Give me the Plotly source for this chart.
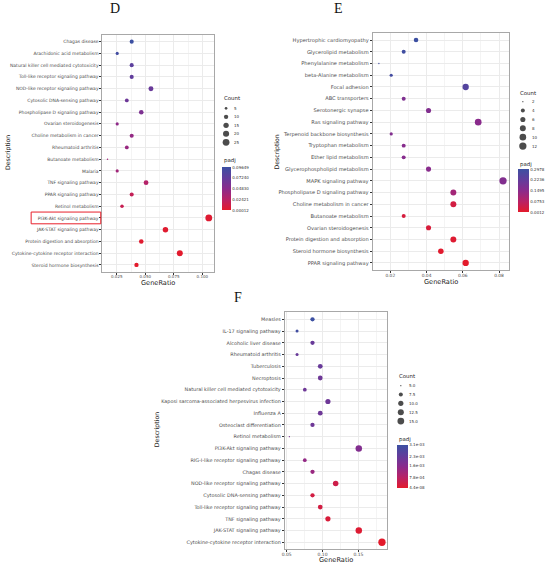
import math
import plotly.graph_objects as go

W, H = 550, 565

# ---------------- Panel D data ----------------
d_terms = ["Chagas disease", "Arachidonic acid metabolism", "Natural killer cell mediated cytotoxicity",
           "Toll-like receptor signaling pathway", "NOD-like receptor signaling pathway",
           "Cytosolic DNA-sensing pathway", "Phospholipase D signaling pathway", "Ovarian steroidogenesis",
           "Choline metabolism in cancer", "Rheumatoid arthritis", "Butanoate metabolism", "Malaria",
           "TNF signaling pathway", "PPAR signaling pathway", "Retinol metabolism",
           "PI3K-Akt signaling pathway", "JAK-STAT signaling pathway", "Protein digestion and absorption",
           "Cytokine-cytokine receptor interaction", "Steroid hormone biosynthesis"]
d_ratio = [0.0381, 0.0254, 0.0381, 0.0381, 0.0550, 0.0338, 0.0465, 0.0254, 0.0381, 0.0338,
           0.0169, 0.0254, 0.0507, 0.0381, 0.0296, 0.1057, 0.0677, 0.0465, 0.0803, 0.0423]
d_count = [9, 6, 9, 9, 13, 8, 11, 6, 9, 8, 4, 6, 12, 9, 7, 25, 16, 11, 19, 10]
d_padj = [0.0965, 0.093, 0.076, 0.073, 0.068, 0.066, 0.056, 0.046, 0.043, 0.041,
          0.036, 0.036, 0.026, 0.018, 0.016, 0.003, 0.002, 0.002, 0.0008, 0.00012]
d_cb_vals = [0.00012, 0.02421, 0.04830, 0.07240, 0.09649]
d_cb_text = ["0.00012", "0.02421", "0.04830", "0.07240", "0.09649"]
d_count_breaks = [5, 10, 15, 20, 25]
d_count_text = ["5", "10", "15", "20", "25"]

# ---------------- Panel E data ----------------
e_terms = ["Hypertrophic cardiomyopathy", "Glycerolipid metabolism", "Phenylalanine metabolism",
           "beta-Alanine metabolism", "Focal adhesion", "ABC transporters", "Serotonergic synapse",
           "Ras signaling pathway", "Terpenoid backbone biosynthesis", "Tryptophan metabolism",
           "Ether lipid metabolism", "Glycerophospholipid metabolism", "MAPK signaling pathway",
           "Phospholipase D signaling pathway", "Choline metabolism in cancer", "Butanoate metabolism",
           "Ovarian steroidogenesis", "Protein digestion and absorption", "Steroid hormone biosynthesis",
           "PPAR signaling pathway"]
e_ratio = [0.0342, 0.0274, 0.0137, 0.0205, 0.0616, 0.0274, 0.0411, 0.0685, 0.0205, 0.0274,
           0.0274, 0.0411, 0.0822, 0.0548, 0.0548, 0.0274, 0.0411, 0.0548, 0.0479, 0.0616]
e_count = [5, 4, 2, 3, 9, 4, 6, 10, 3, 4, 4, 6, 12, 8, 8, 4, 6, 8, 7, 9]
e_padj = [0.2978, 0.290, 0.290, 0.282, 0.250, 0.170, 0.165, 0.150, 0.165, 0.155,
          0.155, 0.152, 0.165, 0.110, 0.030, 0.025, 0.020, 0.010, 0.005, 0.0012]
e_cb_vals = [0.0012, 0.0753, 0.1495, 0.2236, 0.2978]
e_cb_text = ["0.0012", "0.0753", "0.1495", "0.2236", "0.2978"]
e_count_breaks = [2, 4, 6, 8, 10, 12]
e_count_text = ["2", "4", "6", "8", "10", "12"]

# ---------------- Panel F data ----------------
f_terms = ["Measles", "IL-17 signaling pathway", "Alcoholic liver disease", "Rheumatoid arthritis",
           "Tuberculosis", "Necroptosis", "Natural killer cell mediated cytotoxicity",
           "Kaposi sarcoma-associated herpesvirus infection", "Influenza A", "Osteoclast differentiation",
           "Retinol metabolism", "PI3K-Akt signaling pathway", "RIG-I-like receptor signaling pathway",
           "Chagas disease", "NOD-like receptor signaling pathway", "Cytosolic DNA-sensing pathway",
           "Toll-like receptor signaling pathway", "TNF signaling pathway", "JAK-STAT signaling pathway",
           "Cytokine-cytokine receptor interaction"]
f_ratio = [0.0860, 0.0645, 0.0860, 0.0645, 0.0968, 0.0968, 0.0753, 0.1075, 0.0968, 0.0860,
           0.0538, 0.1505, 0.0753, 0.0860, 0.1183, 0.0860, 0.0968, 0.1075, 0.1505, 0.1828]
f_count = [8, 6, 8, 6, 9, 9, 7, 10, 9, 8, 5, 14, 7, 8, 11, 8, 9, 10, 14, 17]
f_padj = [0.0031, 0.0030, 0.0022, 0.0022, 0.0022, 0.0021, 0.0021, 0.0021, 0.0021, 0.0021,
          0.0019, 0.0017, 0.0014, 0.0013, 0.0004, 0.0003, 0.0003, 0.0002, 0.0001, 4.4e-08]
f_cb_vals = [4.4e-08, 7.8e-04, 1.6e-03, 2.3e-03, 3.1e-03]
f_cb_text = ["4.4e-08", "7.8e-04", "1.6e-03", "2.3e-03", "3.1e-03"]
f_count_breaks = [5.0, 7.5, 10.0, 12.5, 15.0]
f_count_text = ["5.0", "7.5", "10.0", "12.5", "15.0"]

COLORSCALE = [[0.0, "#E31A2B"], [0.25, "#B82266"], [0.5, "#8A2B8C"], [0.75, "#623D9C"], [1.0, "#3C50A2"]]
FONT = "DejaVu Sans"


def px(x):
    return x / W


def py(y):
    return 1 - y / H


panels = [
    dict(key="D", terms=d_terms, ratio=d_ratio, count=d_count, padj=d_padj,
         cb_vals=d_cb_vals, cb_text=d_cb_text, breaks=d_count_breaks, btext=d_count_text,
         box=(100, 212, 34.6, 272), dmin=1.5, dmax=6.8, dtick=0.025, fmt=".3f", tfont=4.5, xfont=4.0,
         letter=(113, 8), ytitle=(5, 152), xtitle=(156, 283),
         leg=dict(title=(220, 98), cx=224.3, cy0=108.3, dy=8.5, tx=230.5,
                  ptitle=(220, 161), cb=(220.5, 167.3, 42.7, 8.6))),
    dict(key="E", terms=e_terms, ratio=e_ratio, count=e_count, padj=e_padj,
         cb_vals=e_cb_vals, cb_text=e_cb_text, breaks=e_count_breaks, btext=e_count_text,
         box=(371.7, 509, 33, 270), dmin=1.3, dmax=7.3, dtick=0.02, fmt=".2f", tfont=5.1, xfont=4.4,
         letter=(337.7, 8), ytitle=(276, 152), xtitle=(440, 281.5),
         leg=dict(title=(518, 92.7), cx=522.7, cy0=101.7, dy=8.87, tx=529.5,
                  ptitle=(518, 164), cb=(518, 169.3, 43.4, 11.3))),
    dict(key="F", terms=f_terms, ratio=f_ratio, count=f_count, padj=f_padj,
         cb_vals=f_cb_vals, cb_text=f_cb_text, breaks=f_count_breaks, btext=f_count_text,
         box=(283.3, 385.7, 312.3, 549.3), dmin=1.3, dmax=7.3, dtick=0.05, fmt=".2f", tfont=4.9, xfont=4.5,
         letter=(236.7, 297), ytitle=(155, 430), xtitle=(335, 559.5),
         leg=dict(title=(395.7, 376), cx=400, cy0=385.7, dy=8.83, tx=406,
                  ptitle=(396, 439), cb=(396, 445, 43.3, 10.7))),
]

fig = go.Figure()
layout = dict(width=W, height=H, margin=dict(l=0, r=0, t=0, b=0),
              paper_bgcolor="white", plot_bgcolor="rgba(0,0,0,0)", showlegend=False,
              font=dict(family=FONT, color="#4D4D4D"))
annotations = []
shapes = []

leg_x, leg_y, leg_s = [], [], []

for i, p in enumerate(panels):
    n = i + 1
    sfx = "" if n == 1 else str(n)
    x0, x1, y0, y1 = p["box"]
    lo, hi = min(p["count"]), max(p["count"])
    dmin, dmax = p["dmin"], p["dmax"]

    def size_of(c, lo=lo, hi=hi, dmin=dmin, dmax=dmax):
        return dmin + (dmax - dmin) * math.sqrt(max(c - lo, 0) / (hi - lo))

    rmin, rmax = min(p["ratio"]), max(p["ratio"])
    pad = (rmax - rmin) * 0.05
    ca = "coloraxis" + sfx
    fig.add_trace(go.Scatter(
        x=p["ratio"], y=p["terms"], mode="markers",
        xaxis="x" + sfx, yaxis="y" + sfx,
        marker=dict(size=[size_of(c) for c in p["count"]], color=p["padj"], coloraxis=ca,
                    line=dict(width=0), opacity=1),
        hoverinfo="skip"))

    lg = p["leg"]
    cbx, cby, cblen, cbth = lg["cb"]
    layout[ca] = dict(colorscale=COLORSCALE, cmin=p["cb_vals"][0], cmax=p["cb_vals"][-1],
                      colorbar=dict(x=px(cbx), xanchor="left", y=py(cby), yanchor="top",
                                    len=cblen, lenmode="pixels", thickness=cbth, thicknessmode="pixels",
                                    tickvals=p["cb_vals"], ticktext=p["cb_text"], ticks="",
                                    tickfont=dict(size=4, color="#333333", family=FONT),
                                    outlinewidth=0, xpad=0, ypad=0))

    layout["xaxis" + sfx] = dict(
        domain=[px(x0), px(x1)], anchor="y" + sfx, range=[rmin - pad, rmax + pad],
        dtick=p["dtick"], tick0=0, tickformat=p["fmt"], showgrid=True, gridcolor="#EBEBEB", gridwidth=0.6,
        minor=dict(dtick=p["dtick"] / 2, tick0=0, showgrid=True, gridcolor="#F4F4F4", gridwidth=0.4),
        zeroline=False, showline=True, mirror=True, linecolor="#A8A8A8", linewidth=1,
        ticks="outside", ticklen=1.5, tickwidth=0.5, tickcolor="#333333", ticklabelstandoff=-1,
        tickfont=dict(size=p["xfont"], color="#4D4D4D"), fixedrange=True)
    layout["yaxis" + sfx] = dict(
        domain=[py(y1), py(y0)], anchor="x" + sfx, type="category",
        categoryorder="array", categoryarray=p["terms"],
        range=[len(p["terms"]) - 0.4, -0.6],
        showgrid=True, gridcolor="#EBEBEB", gridwidth=0.6, zeroline=False,
        showline=True, mirror=True, linecolor="#A8A8A8", linewidth=1,
        ticks="outside", ticklen=2, tickwidth=0.5, tickcolor="#333333",
        tickfont=dict(size=p["tfont"], color="#4D4D4D"), fixedrange=True)

    lx, ly = p["letter"]
    annotations.append(dict(x=px(lx), y=py(ly), xref="paper", yref="paper", text=p["key"],
                            showarrow=False, xanchor="center", yanchor="middle",
                            font=dict(family="Liberation Serif", size=14, color="#111111")))
    tx, ty = p["ytitle"]
    annotations.append(dict(x=px(tx), y=py(ty), xref="paper", yref="paper", text="Description",
                            showarrow=False, textangle=-90, xanchor="center", yanchor="middle",
                            font=dict(size=6.2, color="#222222")))
    tx, ty = p["xtitle"]
    annotations.append(dict(x=px(tx), y=py(ty), xref="paper", yref="paper", text="GeneRatio",
                            showarrow=False, xanchor="center", yanchor="middle",
                            font=dict(size=6.6, color="#222222")))
    annotations.append(dict(x=px(lg["title"][0]), y=py(lg["title"][1]), xref="paper", yref="paper",
                            text="Count", showarrow=False, xanchor="left", yanchor="middle",
                            font=dict(size=5.4, color="#222222")))
    annotations.append(dict(x=px(lg["ptitle"][0]), y=py(lg["ptitle"][1]), xref="paper", yref="paper",
                            text="padj", showarrow=False, xanchor="left", yanchor="middle",
                            font=dict(size=5.4, color="#222222")))
    for k, (b, bt) in enumerate(zip(p["breaks"], p["btext"])):
        cy = lg["cy0"] + k * lg["dy"]
        leg_x.append(lg["cx"])
        leg_y.append(cy)
        leg_s.append(size_of(b))
        annotations.append(dict(x=px(lg["tx"]), y=py(cy), xref="paper", yref="paper", text=bt,
                                showarrow=False, xanchor="left", yanchor="middle",
                                font=dict(size=4, color="#333333")))

pi_idx = d_terms.index("PI3K-Akt signaling pathway")
shapes.append(dict(type="rect", xref="paper", yref="y", x0=px(28.3), x1=px(98.3),
                   y0=pi_idx - 0.5, y1=pi_idx + 0.5, line=dict(color="#E8202A", width=1)))

fig.add_trace(go.Scatter(x=leg_x, y=leg_y, mode="markers", xaxis="x4", yaxis="y4",
                         marker=dict(size=leg_s, color="black", line=dict(width=0)), hoverinfo="skip"))
layout["xaxis4"] = dict(domain=[0, 1], range=[0, W], visible=False, anchor="y4", fixedrange=True)
layout["yaxis4"] = dict(domain=[0, 1], range=[H, 0], visible=False, anchor="x4", fixedrange=True)

layout["annotations"] = annotations
layout["shapes"] = shapes
fig.update_layout(**layout)
fig.write_html("out.html", config={"displayModeBar": False},
               post_script="document.body.style.margin='0';document.body.style.overflow='hidden';")
